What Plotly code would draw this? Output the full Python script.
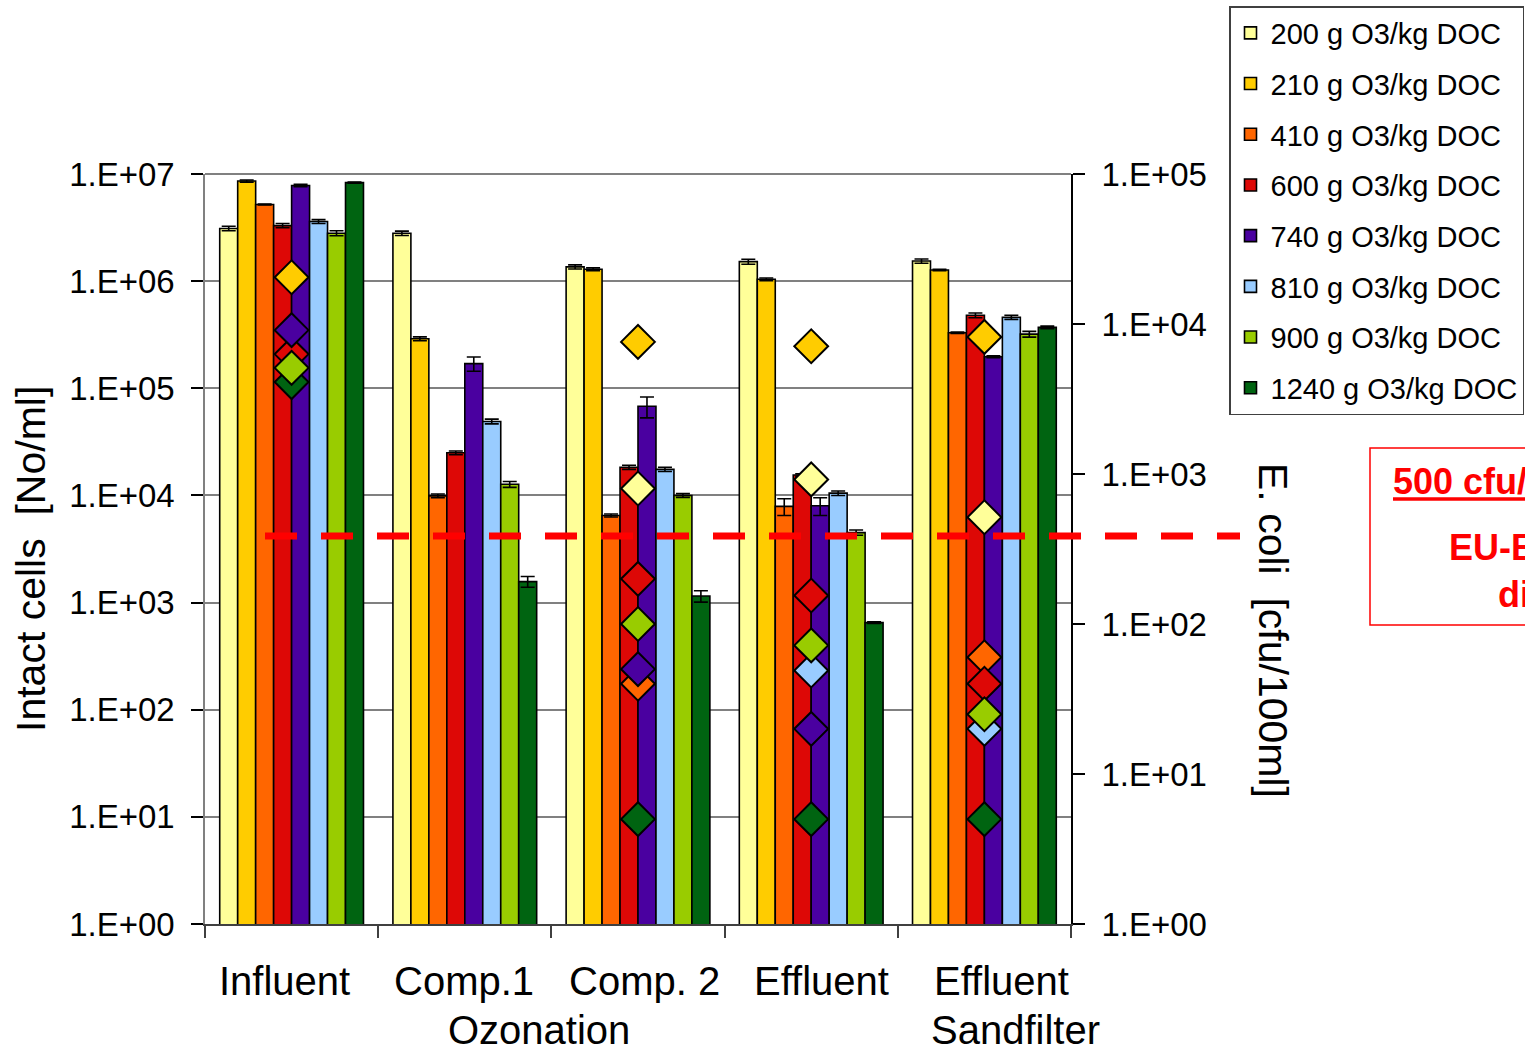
import plotly.graph_objects as go

# ---------------- data ----------------
categories = ["Influent", "Comp.1", "Comp. 2", "Effluent", "Effluent Sandfilter"]
doses = ["200 g O3/kg DOC", "210 g O3/kg DOC", "410 g O3/kg DOC", "600 g O3/kg DOC",
         "740 g O3/kg DOC", "810 g O3/kg DOC", "900 g O3/kg DOC", "1240 g O3/kg DOC"]

# intact cells [No/ml] per category
cells_200 = [3.1e6, 2.8e6, 1.36e6, 1.52e6, 1.54e6]
cells_210 = [8.6e6, 2.9e5, 1.29e6, 1.04e6, 1.27e6]
cells_410 = [5.2e6, 9.9e3, 6.5e3, 7.9e3, 3.3e5]
cells_600 = [3.3e6, 2.5e4, 1.83e4, 1.55e4, 4.8e5]
cells_740 = [7.8e6, 1.7e5, 6.8e4, 8.0e3, 1.97e5]
cells_810 = [3.6e6, 4.9e4, 1.75e4, 1.05e4, 4.6e5]
cells_900 = [2.8e6, 1.27e4, 1.0e4, 4.5e3, 3.2e5]
cells_1240 = [8.3e6, 1.57e3, 1.15e3, 650, 3.7e5]

# error (standard deviation) of intact cells
err_200 = [1.5e5, 1.3e5, 6e4, 8e4, 7e4]
err_210 = [2e5, 1.2e4, 4e4, 3e4, 2e4]
err_410 = [5e4, 4e2, 2e2, 1.4e3, 5e3]
err_600 = [1.5e5, 1e3, 8e2, 4e2, 2.5e4]
err_740 = [2e5, 2.6e4, 1.5e4, 1.5e3, 4e3]
err_810 = [1.5e5, 2.5e3, 8e2, 5e2, 2e4]
err_900 = [1.5e5, 8e2, 4e2, 2.5e2, 2e4]
err_1240 = [1e5, 1.8e2, 1.4e2, 10, 1e4]

# E. coli [cfu/100ml] per category (None = not measured)
ecoli_200 = [None, None, 800, 920, 515]
ecoli_210 = [2.05e4, None, 7.6e3, 7.1e3, 8.2e3]
ecoli_410 = [None, None, 40, None, 60]
ecoli_600 = [6.3e3, None, 200, 155, 40]
ecoli_740 = [9.1e3, None, 50, 20, None]
ecoli_810 = [None, None, None, 49, 20]
ecoli_900 = [5.1e3, None, 100, 72, 25]
ecoli_1240 = [4.1e3, None, 5, 5, 5]

limit_line_value = 386  # dashed red line, read on right axis

left_tickvals = [1, 10, 100, 1e3, 1e4, 1e5, 1e6, 1e7]
left_ticktext = ["1.E+00", "1.E+01", "1.E+02", "1.E+03", "1.E+04", "1.E+05", "1.E+06", "1.E+07"]
right_tickvals = [1, 10, 100, 1e3, 1e4, 1e5]
right_ticktext = ["1.E+00", "1.E+01", "1.E+02", "1.E+03", "1.E+04", "1.E+05"]

cat_line1 = ["Influent", "Comp.1", "Comp. 2", "Effluent", "Effluent"]

# ---------------- style ----------------
colors = ["#FFFF99", "#FFCC00", "#FF6600", "#DD0806", "#4A00A0", "#99CCFF", "#99CC00", "#006411"]
FONT = "Liberation Sans, Arial, sans-serif"

cells = [cells_200, cells_210, cells_410, cells_600, cells_740, cells_810, cells_900, cells_1240]
errs = [err_200, err_210, err_410, err_600, err_740, err_810, err_900, err_1240]
ecoli = [ecoli_200, ecoli_210, ecoli_410, ecoli_600, ecoli_740, ecoli_810, ecoli_900, ecoli_1240]

W, H = 1525, 1049
L, R, T, B = 205, 1071, 174, 924


def px(x):
    return (x - L) / (R - L)


def py(y):
    return 1 - (y - T) / (B - T)


fig = go.Figure()

for i, d in enumerate(doses):
    fig.add_trace(go.Bar(
        x=categories, y=cells[i], name=d,
        marker=dict(color=colors[i], line=dict(color="black", width=1.6)),
        error_y=dict(type="data", array=errs[i], visible=True, color="black",
                     thickness=1.6, width=7),
        legendgroup=d, yaxis="y",
    ))

# diamonds (E. coli) -- 1240 first so later series lie on top as in the original
order = [7, 0, 1, 2, 3, 4, 5, 6]
for i in order:
    fig.add_trace(go.Scatter(
        x=categories, y=ecoli[i], mode="markers", yaxis="y2",
        marker=dict(symbol="diamond", size=26, color=colors[i],
                    line=dict(color="black", width=2)),
        showlegend=False, name=doses[i], cliponaxis=False,
    ))

shapes = [
    # limit line
    dict(type="line", xref="paper", yref="y2", x0=px(265), x1=px(1240),
         y0=limit_line_value, y1=limit_line_value,
         line=dict(color="#FF0000", width=7, dash="32px,24px"), layer="above"),
    # red info box (cut by figure edge)
    dict(type="rect", xref="paper", yref="paper", x0=px(1370), x1=px(1700),
         y0=py(625), y1=py(448), line=dict(color="#FF0000", width=1.5)),
    # underline of 500 cfu text
    dict(type="line", xref="paper", yref="paper", x0=px(1393), x1=px(1700),
         y0=py(499), y1=py(499), line=dict(color="#FF0000", width=3.5)),
    # top frame line
    dict(type="line", xref="paper", yref="paper", x0=0, x1=1, y0=1, y1=1,
         line=dict(color="#808080", width=2), layer="below"),
]

annotations = []
# category labels
line1_x = [284.5, 463.5, 644.5, 821.5, 1001]
for t, xc in zip(cat_line1, line1_x):
    annotations.append(dict(text=t, xref="paper", yref="paper", x=px(xc), y=py(981),
                            xanchor="center", yanchor="middle", showarrow=False,
                            font=dict(size=40, color="black", family=FONT)))
annotations.append(dict(text="Ozonation", xref="paper", yref="paper", x=px(539), y=py(1030),
                        xanchor="center", yanchor="middle", showarrow=False,
                        font=dict(size=40, color="black", family=FONT)))
annotations.append(dict(text="Sandfilter", xref="paper", yref="paper", x=px(1015), y=py(1030),
                        xanchor="center", yanchor="middle", showarrow=False,
                        font=dict(size=40, color="black", family=FONT)))
# axis titles
annotations.append(dict(text="Intact cells  [No/ml]", xref="paper", yref="paper",
                        x=px(31), y=py(559), textangle=-90, xanchor="center", yanchor="middle",
                        showarrow=False, font=dict(size=41, color="black", family=FONT)))
annotations.append(dict(text="E. coli  [cfu/100ml]", xref="paper", yref="paper",
                        x=px(1273), y=py(630), textangle=90, xanchor="center", yanchor="middle",
                        showarrow=False, font=dict(size=41, color="black", family=FONT)))
# red box texts
annotations.append(dict(text="<b>500 cfu/100ml</b>", xref="paper", yref="paper",
                        x=px(1391), y=py(481), xanchor="left", yanchor="middle",
                        showarrow=False, font=dict(size=36, color="#FF0000", family=FONT)))
annotations.append(dict(text="<b>EU-Bathing water</b>", xref="paper", yref="paper",
                        x=px(1447), y=py(547), xanchor="left", yanchor="middle",
                        showarrow=False, font=dict(size=36, color="#FF0000", family=FONT)))
annotations.append(dict(text="<b>directive</b>", xref="paper", yref="paper",
                        x=px(1496), y=py(594), xanchor="left", yanchor="middle",
                        showarrow=False, font=dict(size=36, color="#FF0000", family=FONT)))

fig.update_layout(
    width=W, height=H,
    margin=dict(l=L, r=W - R, t=T, b=H - B, pad=0, autoexpand=False),
    paper_bgcolor="white", plot_bgcolor="white",
    barmode="group", bargap=0.17, bargroupgap=0,
    font=dict(family=FONT, color="black"),
    xaxis=dict(type="category", range=[-0.5, 4.5], showticklabels=False,
               ticks="outside", tickson="boundaries", ticklen=12, tickwidth=1.5,
               tickcolor="#404040", showline=True, linecolor="#404040", linewidth=1.5,
               showgrid=False, zeroline=False),
    yaxis=dict(type="log", range=[0, 7], tickvals=left_tickvals, ticktext=left_ticktext,
               ticks="outside", ticklen=12, tickwidth=1.5, tickcolor="black",
               showline=True, linecolor="#808080", linewidth=1.5,
               showgrid=True, gridcolor="#808080", gridwidth=1.5, zeroline=False,
               tickfont=dict(size=33, color="black", family=FONT), ticklabelstandoff=10),
    yaxis2=dict(type="log", range=[0, 5], overlaying="y", side="right", anchor="x",
                tickvals=right_tickvals, ticktext=right_ticktext,
                ticks="outside", ticklen=12, tickwidth=1.5, tickcolor="black",
                showline=True, linecolor="black", linewidth=1.6, showgrid=False, zeroline=False,
                tickfont=dict(size=33, color="black", family=FONT), ticklabelstandoff=10),
    legend=dict(x=px(1229), y=py(6), xanchor="left", yanchor="top",
                bgcolor="white", bordercolor="#404040", borderwidth=1.5,
                font=dict(size=29, color="black", family=FONT), tracegroupgap=10),
    shapes=shapes, annotations=annotations, showlegend=True,
)

fig.write_html("out.html", config={"displayModeBar": False},
               post_script="document.body.style.margin='0';document.body.style.overflow='hidden';")
